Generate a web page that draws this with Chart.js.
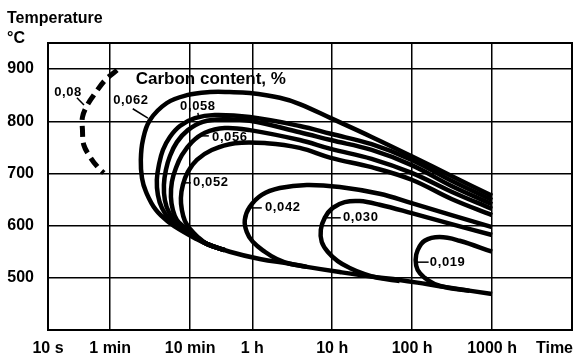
<!DOCTYPE html>
<html>
<head>
<meta charset="utf-8">
<script src="https://cdn.jsdelivr.net/npm/chart.js@4/dist/chart.umd.min.js"></script>
<style>
  html, body { margin: 0; padding: 0; background: #fff; }
  canvas { display: block; }
</style>
</head>
<body>
<canvas id="ttt" width="574" height="358"></canvas>
<script>
// Time axis (seconds, log scale) and temperature axis (°C)
const timeTicks = [10, 60, 600, 3600, 36000, 360000, 3600000];
const timeTickLabels = ['10 s', '1 min', '10 min', '1 h', '10 h', '100 h', '1000 h'];
const tempTicks = [500, 600, 700, 800, 900];

// Precipitation-start curves: time in s, temperature in °C
const c080Time = [73, 52, 39, 31, 27, 27, 28, 33.5, 42, 50];
const c080Temp = [898, 879, 854, 831, 808, 783, 755, 732, 712, 701];

const c062Time = [3.6e6, 1.12e6, 3.55e5, 1.12e5, 34500, 14100, 7940, 3350, 1880, 1060, 546, 307, 188, 154, 145, 150, 168, 224, 335, 473, 688, 971, 1880, 4470, 10600, 17300, 44700, 115000, 251000, 546000, 1.06e6, 3.6e6];
const c062Temp = [657, 695, 733, 770, 806, 833, 845, 854, 856, 856, 850, 835, 802, 764, 726, 691, 665, 630, 605, 590, 576, 565, 550, 536, 527, 521, 511, 502, 496, 488, 481, 469];

const c058Time = [3.6e6, 1.12e6, 3.55e5, 1.12e5, 34500, 14100, 3350, 1220, 688, 447, 335, 274, 244, 230, 237, 266, 335, 447, 631, 971, 1630];
const c058Temp = [649, 686, 726, 756, 776, 791, 808, 812, 806, 791, 770, 745, 716, 688, 659, 634, 611, 596, 582, 565, 553];

const c057Time = [3.6e6, 1.12e6, 3.55e5, 1.12e5, 34500, 14100, 3350, 1630, 866, 562, 410, 335, 299, 282, 290, 325, 398, 516, 688, 971, 1630];
const c057Temp = [641, 676, 716, 745, 764, 779, 801, 804, 799, 783, 760, 733, 707, 678, 649, 626, 607, 594, 580, 565, 553];

const c056Time = [3.6e6, 1.12e6, 3.55e5, 1.12e5, 34500, 14100, 3350, 1630, 917, 631, 473, 398, 355, 345, 365, 410, 516, 688, 971, 1630];
const c056Temp = [632, 665, 701, 728, 747, 764, 783, 787, 778, 760, 735, 710, 684, 655, 630, 611, 596, 580, 565, 553];

const c052Time = [3.6e6, 1.12e6, 3.55e5, 1.12e5, 34500, 14100, 5460, 2180, 1120, 729, 562, 487, 460, 473, 516, 596, 729, 971, 1630];
const c052Temp = [620, 651, 688, 712, 730, 749, 758, 758, 745, 726, 703, 678, 653, 630, 609, 594, 580, 565, 553];

const c042Time = [3.6e6, 1.12e6, 3.55e5, 141000, 44700, 17300, 7940, 4730, 3350, 2900, 3070, 3650, 5160, 7290, 10600, 17300];
const c042Temp = [597, 620, 643, 661, 674, 678, 672, 659, 636, 611, 588, 569, 550, 536, 527, 521];

const c030Time = [3.6e6, 1.12e6, 3.55e5, 141000, 79400, 51600, 36500, 29000, 25900, 26600, 31600, 42200, 59600, 91700, 133000, 251000];
const c030Temp = [582, 603, 624, 640, 647, 645, 634, 615, 592, 569, 550, 532, 519, 507, 500, 494];

const c019Time = [3.6e6, 1.41e6, 794000, 516000, 422000, 398000, 422000, 516000, 688000, 1e6, 1.88e6];
const c019Temp = [550, 571, 578, 571, 553, 534, 515, 500, 488, 481, 475];

// Curve labels: text anchor and leader line, in (time s, °C)
const curveLabels = [
  { text: '0,08',  at: [17.8, 856],  from: [23.0, 845],   to: [28.2, 831] },
  { text: '0,062', at: [109, 839],   from: [115, 824],    to: [178, 806] },
  { text: '0,058', at: [750, 829],   from: [750, 816],    to: [772, 806] },
  { text: '0,056', at: [1884, 770],  from: [818, 772],    to: [1029, 772] },
  { text: '0,052', at: [1090, 682],  from: [501, 682],    to: [613, 682] },
  { text: '0,042', at: [8660, 634],  from: [3447, 634],   to: [4732, 634] },
  { text: '0,030', at: [81750, 615], from: [30730, 615],  to: [45970, 615] },
  { text: '0,019', at: [1e6, 530],   from: [409700, 530], to: [578800, 530] }
];
const legendTitle = { text: 'Carbon content, %', at: [1090, 881] };

const FONT = "'Liberation Sans', Arial, Helvetica, sans-serif";

function toPoints(times, temps) {
  return times.map((t, i) => ({ x: t, y: temps[i] }));
}

function curve(times, temps, extra) {
  return Object.assign({
    data: toPoints(times, temps),
    showLine: true,
    borderColor: '#000',
    borderWidth: 4.5,
    tension: 0.4,
    pointRadius: 0,
    fill: false
  }, extra || {});
}

const decorations = {
  id: 'decorations',
  beforeDatasetsDraw(chart) {
    const { ctx, chartArea: a } = chart;
    ctx.save();
    ctx.strokeStyle = '#000';
    ctx.lineWidth = 2;
    ctx.strokeRect(a.left, a.top, a.right - a.left, a.bottom - a.top);
    ctx.restore();
  },
  afterDatasetsDraw(chart) {
    const { ctx, scales: { x, y } } = chart;
    ctx.save();
    ctx.fillStyle = '#000';
    ctx.strokeStyle = '#000';

    // leader lines
    ctx.lineWidth = 1.5;
    for (const l of curveLabels) {
      ctx.beginPath();
      ctx.moveTo(x.getPixelForValue(l.from[0]), y.getPixelForValue(l.from[1]));
      ctx.lineTo(x.getPixelForValue(l.to[0]), y.getPixelForValue(l.to[1]));
      ctx.stroke();
    }

    // curve labels
    ctx.font = 'bold 13px ' + FONT;
    if ('letterSpacing' in ctx) ctx.letterSpacing = '0.6px';
    ctx.textAlign = 'center';
    ctx.textBaseline = 'middle';
    for (const l of curveLabels) {
      ctx.fillText(l.text, x.getPixelForValue(l.at[0]), y.getPixelForValue(l.at[1]));
    }
    if ('letterSpacing' in ctx) ctx.letterSpacing = '0px';

    ctx.font = 'bold 17px ' + FONT;
    ctx.fillText(legendTitle.text, x.getPixelForValue(legendTitle.at[0]), y.getPixelForValue(legendTitle.at[1]));

    // axis titles
    ctx.font = 'bold 16px ' + FONT;
    ctx.textAlign = 'left';
    ctx.textBaseline = 'alphabetic';
    ctx.fillText('Temperature', 7, 23);
    ctx.fillText('°C', 7, 43);
    ctx.textAlign = 'right';
    ctx.fillText('Time', 573, 353);
    ctx.restore();
  }
};

const tickFont = { family: FONT, size: 16, weight: 'bold' };

new Chart(document.getElementById('ttt'), {
  type: 'scatter',
  data: {
    datasets: [
      curve(c080Time, c080Temp, { borderWidth: 5, borderDash: [11, 6], tension: 0.35 }),
      curve(c062Time, c062Temp),
      curve(c058Time, c058Temp),
      curve(c057Time, c057Temp),
      curve(c056Time, c056Temp),
      curve(c052Time, c052Temp),
      curve(c042Time, c042Temp),
      curve(c030Time, c030Temp),
      curve(c019Time, c019Temp)
    ]
  },
  options: {
    responsive: false,
    animation: false,
    devicePixelRatio: 1,
    layout: { padding: { left: 0, right: 2, top: 43, bottom: 0 } },
    plugins: { legend: { display: false }, tooltip: { enabled: false } },
    scales: {
      x: {
        type: 'logarithmic',
        min: 10,
        max: 3.6e7,
        afterBuildTicks: s => { s.ticks = timeTicks.map(v => ({ value: v })); },
        afterFit: s => { s.height = 28; },
        ticks: {
          autoSkip: false, maxRotation: 0, minRotation: 0, padding: 9,
          color: '#000', font: tickFont,
          callback: (v, i) => timeTickLabels[i]
        },
        grid: { color: '#000', lineWidth: 1.5, drawTicks: false },
        border: { color: '#000', width: 2 }
      },
      y: {
        type: 'linear',
        min: 400,
        max: 950,
        afterBuildTicks: s => { s.ticks = tempTicks.map(v => ({ value: v })); },
        afterFit: s => { s.width = 48; },
        ticks: { padding: 14, color: '#000', font: tickFont },
        grid: { color: '#000', lineWidth: 1.5, drawTicks: false },
        border: { color: '#000', width: 2 }
      }
    }
  },
  plugins: [decorations]
});
</script>
</body>
</html>
